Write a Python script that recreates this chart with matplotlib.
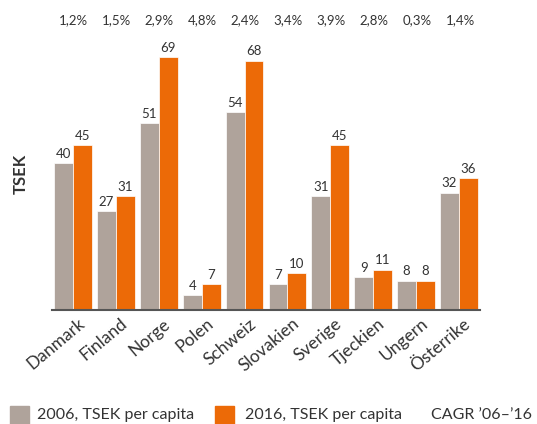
import matplotlib.pyplot as plt
import numpy as np

plt.rcParams['font.family'] = ['Lato', 'DejaVu Sans']

countries = ['Danmark', 'Finland', 'Norge', 'Polen', 'Schweiz', 'Slovakien',
             'Sverige', 'Tjeckien', 'Ungern', 'Österrike']
tsek_2006 = [40, 27, 51, 4, 54, 7, 31, 9, 8, 32]
tsek_2016 = [45, 31, 69, 7, 68, 10, 45, 11, 8, 36]
cagr = ['1,2%', '1,5%', '2,9%', '4,8%', '2,4%', '3,4%', '3,9%', '2,8%', '0,3%', '1,4%']

gray = '#afa39b'
orange = '#ec6a07'
text_col = '#333333'

fig = plt.figure(figsize=(5.37, 4.24), dpi=100)
ax = fig.add_axes([52 / 537, 114 / 424, 428 / 537, 270 / 424])

x = np.arange(len(countries))
w = 0.44
b1 = ax.bar(x - w / 2, tsek_2006, w, color=gray, edgecolor='white', linewidth=0.5)
b2 = ax.bar(x + w / 2, tsek_2016, w, color=orange, edgecolor='white', linewidth=0.5)

for bars, vals in [(b1, tsek_2006), (b2, tsek_2016)]:
    for r, v in zip(bars, vals):
        ax.text(r.get_x() + r.get_width() / 2, v + 0.9, str(v), ha='center', va='bottom',
                fontsize=9.5, color=text_col)

ax.set_xlim(-0.49, len(countries) - 0.51)
ax.set_ylim(0, 73.6)

ax.set_xticks(x + 0.1)
ax.set_xticklabels(countries, rotation=40, ha='right', rotation_mode='anchor',
                   fontsize=12.5, color=text_col)
ax.tick_params(axis='x', length=0, pad=4)
ax.set_yticks([])
for s in ['top', 'right', 'left']:
    ax.spines[s].set_visible(False)
ax.spines['bottom'].set_color('#555555')
ax.spines['bottom'].set_linewidth(1.5)

fig.text(21 / 537, 1 - 174 / 424, 'TSEK', rotation=90, ha='center', va='center',
         fontsize=12, fontweight='bold', color=text_col)

# CAGR row on top
for i, c in enumerate(cagr):
    xf = (52 + 43 * i + 21) / 537
    fig.text(xf, 1 - 20 / 424, c, ha='center', va='center', fontsize=9.5, color=text_col)

# legend along bottom
fig.patches.append(plt.Rectangle((10 / 537, 1 - 430 / 424), 19 / 537, 24 / 424,
                                 transform=fig.transFigure, color=gray))
fig.text(37 / 537, 1 - 419 / 424, '2006, TSEK per capita', ha='left', va='baseline',
         fontsize=11.5, color=text_col)
fig.patches.append(plt.Rectangle((215 / 537, 1 - 430 / 424), 19 / 537, 24 / 424,
                                 transform=fig.transFigure, color=orange))
fig.text(245 / 537, 1 - 419 / 424, '2016, TSEK per capita', ha='left', va='baseline',
         fontsize=11.5, color=text_col)
fig.text(431 / 537, 1 - 419 / 424, 'CAGR \u02bc06\u2013\u02bc16', ha='left', va='baseline',
         fontsize=11.5, color=text_col)

fig.savefig('out.png', dpi=100)
